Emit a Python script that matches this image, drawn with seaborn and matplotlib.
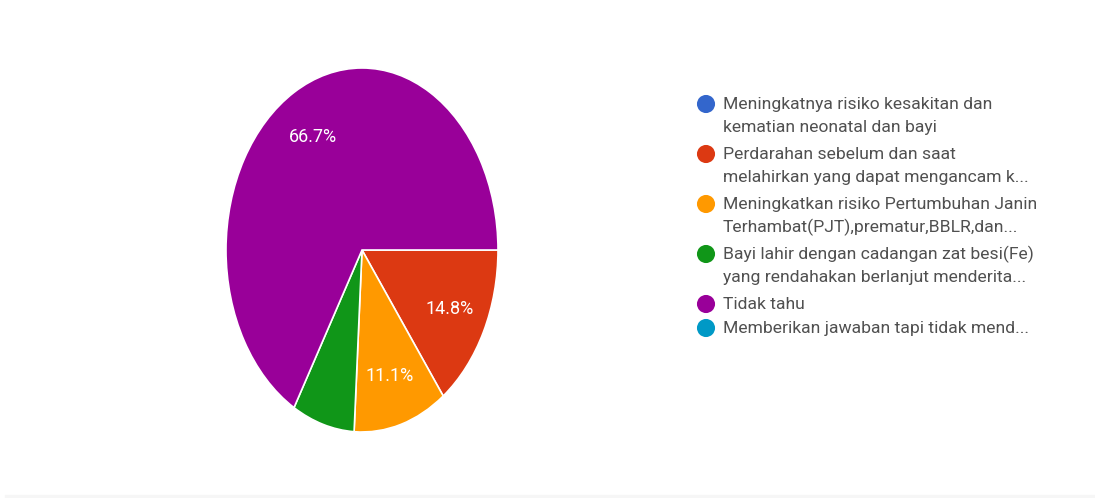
import numpy as np
import matplotlib.pyplot as plt
import seaborn as sns
from matplotlib.patches import Rectangle

sns.set_theme(style="white")
plt.rcParams['font.family'] = ['Roboto', 'DejaVu Sans']

# data (27 responden)
kategori = [
    'Meningkatnya risiko kesakitan dan\nkematian neonatal dan bayi',
    'Perdarahan sebelum dan saat\nmelahirkan yang dapat mengancam k...',
    'Meningkatkan risiko Pertumbuhan Janin\nTerhambat(PJT),prematur,BBLR,dan...',
    'Bayi lahir dengan cadangan zat besi(Fe)\nyang rendahakan berlanjut menderita...',
    'Tidak tahu',
    'Memberikan jawaban tapi tidak mend...',
]
jumlah = [0, 4, 3, 2, 18, 0]
warna = ['#3366cc', '#dc3912', '#ff9900', '#109618', '#990099', '#0099c6']

fig = plt.figure(figsize=(10.95, 4.98), dpi=100)

# pie (sedikit lonjong seperti di screenshot)
cx, cy, rx, ry = 362, 250, 136, 182
W, H = 1095, 498
ax = fig.add_axes([(cx - rx) / W, 1 - (cy + ry) / H, 2 * rx / W, 2 * ry / H])

def fmt_pct(p):
    return f'{p:.1f}%' if p >= 10 else ''

idx = [i for i, v in enumerate(jumlah) if v > 0]
wedges, teks, autoteks = ax.pie(
    [jumlah[i] for i in idx], colors=[warna[i] for i in idx],
    startangle=0, counterclock=False, autopct=fmt_pct, pctdistance=0.72,
    wedgeprops=dict(edgecolor='white', linewidth=1.2),
    textprops=dict(color='white', fontsize=13))
ax.set_aspect('auto')
ax.set_xlim(-1, 1)
ax.set_ylim(-1, 1)

# legenda manual
lg = fig.add_axes([0, 0, 1, 1])
lg.set_xlim(0, W)
lg.set_ylim(H, 0)
lg.axis('off')
y = 104
for lab, c in zip(kategori, warna):
    lg.scatter(706, y, s=170, color=c, edgecolor='none')
    for k, baris in enumerate(lab.split('\n')):
        lg.text(723, y + k * 23, baris, color='#505050', fontsize=12.6,
                va='center')
    y += 50 if '\n' in lab else 24

fig.patches.append(Rectangle((0.005, 0), 1, 3 / H, transform=fig.transFigure,
                             color='#f6f6f6', zorder=0))

plt.savefig('out.png', dpi=100)
